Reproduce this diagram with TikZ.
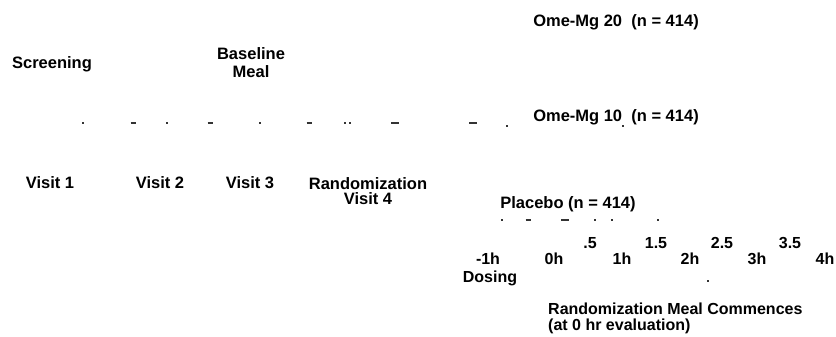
\documentclass[tikz,border=0pt]{standalone}
\usepackage{fontspec}
\setmainfont{Liberation Sans}
\begin{document}
\begin{tikzpicture}[x=1pt,y=-1pt,
  lbl/.style={inner sep=0pt,font=\fontsize{16.5}{14}\selectfont\bfseries,align=center,text=black},
  tlbl/.style={inner sep=0pt,font=\fontsize{16}{14}\selectfont\bfseries,align=center,text=black},
  note/.style={inner sep=0pt,font=\fontsize{16}{16}\selectfont\bfseries,align=left,text=black},
  speck/.style={line width=1.3pt,black!80}]
\useasboundingbox (0,0) rectangle (836,337);
% group labels
\node[lbl] (g20) at (616,22) {Ome-Mg 20\ \ (n = 414)};
\node[lbl] (g10) at (616,117) {Ome-Mg 10\ \ (n = 414)};
\node[lbl] (pla) at (568,204) {Placebo (n = 414)};
% phase labels
\node[lbl] (scr) at (52,64) {Screening};
\node[lbl,font=\fontsize{16.5}{18}\selectfont\bfseries] (bas) at (251,63) {Baseline\\Meal};
% visits
\node[lbl] (v1) at (50,183) {Visit 1};
\node[lbl] (v2) at (160,183) {Visit 2};
\node[lbl] (v3) at (250,183) {Visit 3};
\node[lbl,font=\fontsize{16.5}{15}\selectfont\bfseries] (v4) at (368,191) {Randomization\\Visit 4};
% time axis labels
\node[tlbl] (tm1) at (488,259) {-1h};
\node[tlbl] (dos) at (490,278) {Dosing};
\node[tlbl] (t0) at (554,259) {0h};
\node[tlbl] (t05) at (590,243) {.5};
\node[tlbl] (t1) at (622,259) {1h};
\node[tlbl] (t15) at (656,243) {1.5};
\node[tlbl] (t2) at (690,259) {2h};
\node[tlbl] (t25) at (722,243) {2.5};
\node[tlbl] (t3) at (757,259) {3h};
\node[tlbl] (t35) at (790,243) {3.5};
\node[tlbl] (t4) at (825,259) {4h};
\node[note,anchor=north west] (meal) at (548,303) {Randomization Meal Commences\\(at 0 hr evaluation)};
% residual specks of the scanned dashed lines
\foreach \x/\l in {83/1.5,133/5,167/1.5,210/5,260/1.5,309/5,345/2,350/2,395/8,473/8}
  \draw[speck] (\x-\l/2,123) -- (\x+\l/2,123);
\draw[speck] (506,126) -- (508,126);
\draw[speck] (622,126) -- (624,126);
\foreach \x/\l in {502/1.5,528/5,565/8,595/2,612/1.5,658/1.5}
  \draw[speck] (\x-\l/2,220) -- (\x+\l/2,220);
\draw[speck] (707,281) -- (709,281);
\end{tikzpicture}
\end{document}
